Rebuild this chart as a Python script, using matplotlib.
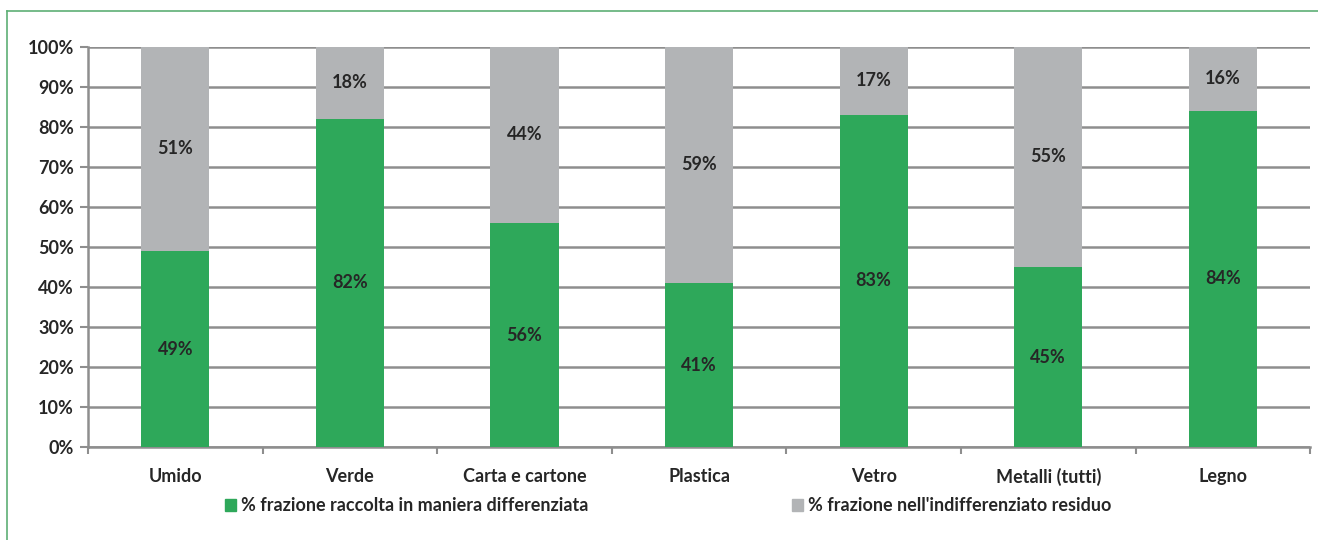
import matplotlib.pyplot as plt
import matplotlib.lines as mlines
from matplotlib.patches import Patch
import numpy as np

categorie = ["Umido", "Verde", "Carta e cartone", "Plastica", "Vetro", "Metalli (tutti)", "Legno"]
differenziata = [49, 82, 56, 41, 83, 45, 84]
residuo = [51, 18, 44, 59, 17, 55, 16]
yticks = [0, 10, 20, 30, 40, 50, 60, 70, 80, 90, 100]

verde = "#2EA85A"
grigio = "#B2B4B6"
testo = "#262626"

plt.rcParams['font.family'] = ['Lato', 'DejaVu Sans']
fs = 13

fig = plt.figure(figsize=(13.18, 5.4), dpi=100)
ax = fig.add_axes([0.0668, 0.1722, 0.9272, 0.7408])

x = np.arange(len(categorie))
w = 0.39
ax.bar(x, differenziata, w, color=verde, zorder=3)
ax.bar(x, residuo, w, bottom=differenziata, color=grigio, zorder=3)

for i in range(len(categorie)):
    ax.text(x[i], differenziata[i] / 2, f"{differenziata[i]}%", ha="center", va="center",
            fontsize=fs, fontweight="bold", color=testo, zorder=4)
    ax.text(x[i], differenziata[i] + residuo[i] / 2, f"{residuo[i]}%", ha="center", va="center",
            fontsize=fs, fontweight="bold", color=testo, zorder=4)

ax.set_xlim(-0.5, len(categorie) - 0.5)
ax.set_ylim(0, 100)
ax.set_yticks(yticks)
ax.set_yticklabels([f"{v}%" for v in yticks], fontsize=fs, fontweight="bold", color=testo)
ax.yaxis.grid(True, color="#8E8E8E", linewidth=1.8, zorder=0)
ax.set_axisbelow(True)

ax.set_xticks(x)
ax.set_xticklabels(categorie, fontsize=fs, fontweight="bold", color=testo)
ax.tick_params(axis="x", length=0, pad=15)
ax.set_xticks(np.arange(-0.5, len(categorie), 1), minor=True)
ax.tick_params(axis="x", which="minor", length=5, width=1.5, color="#8E8E8E", direction="out")
ax.tick_params(axis="y", length=6, width=1.5, color="#8E8E8E", pad=4)

for s in ["top", "right"]:
    ax.spines[s].set_visible(False)
for s in ["left", "bottom"]:
    ax.spines[s].set_color("#8E8E8E")
    ax.spines[s].set_linewidth(1.8)

handles = [Patch(color=verde, label="% frazione raccolta in maniera differenziata"),
           Patch(color=grigio, label="% frazione nell'indifferenziato residuo")]
fig.legend(handles=handles, loc="center", bbox_to_anchor=(0.507, 0.063), ncol=2, frameon=False,
           prop={"size": fs, "weight": "bold"}, labelcolor=testo, handlelength=0.6, handleheight=0.6,
           handletextpad=0.25, columnspacing=11.3)

# cornice verde
fig.add_artist(mlines.Line2D([0.0053, 1], [0.9796, 0.9796], color="#5DAF75", linewidth=1.2))
fig.add_artist(mlines.Line2D([0.0053, 0.0053], [0, 0.9796], color="#5DAF75", linewidth=1.2))

fig.savefig("out.png", dpi=100)
